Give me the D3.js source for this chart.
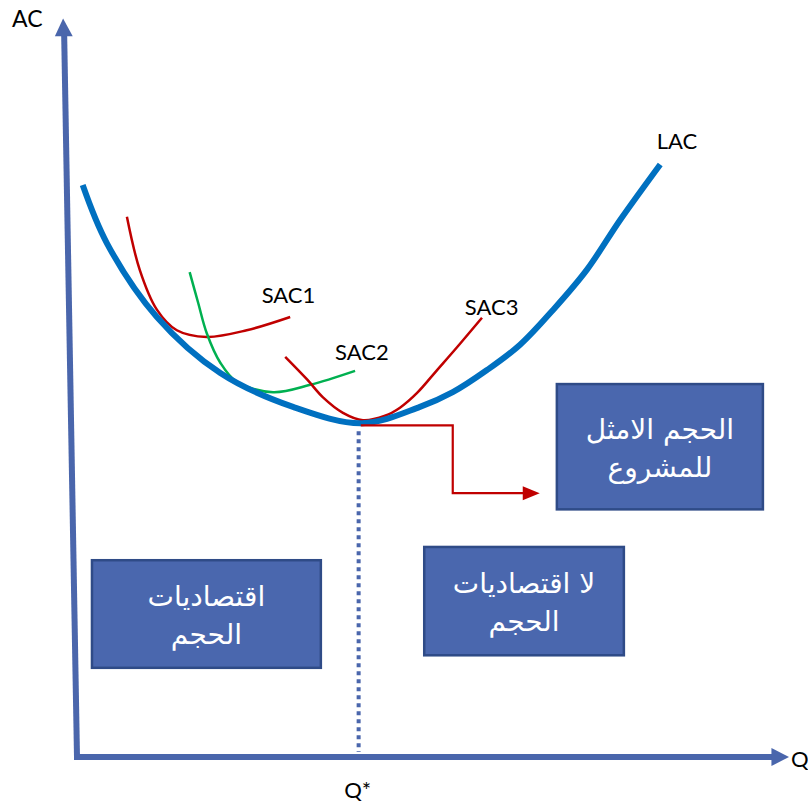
<!DOCTYPE html>
<html><head><meta charset="utf-8">
<script src="https://cdn.jsdelivr.net/npm/d3@7"></script>
<style>html,body{margin:0;padding:0;background:#fff;}svg{display:block;}</style>
</head><body>
<svg id="c" width="808" height="804"></svg>
<script>
// Long-run average cost curve (Q, AC) in chart units
const lacQ  = [0.8, 4.2, 11.2, 20.1, 30.3, 40.0, 48.1, 52.7, 57.5, 62.1, 66.8, 71.5, 76.2, 81.8];
const lacAC = [77.6, 69.7, 59.7, 52.1, 47.5, 45.3, 47.5, 49.5, 52.5, 55.9, 60.7, 66.1, 72.9, 80.4];
// Short-run average cost curves
const sac1Q  = [7.0, 8.8, 11.2, 14.0, 18.2, 23.8, 29.9];
const sac1AC = [73.3, 66.1, 60.7, 57.9, 57.0, 57.9, 59.7];
const sac2Q  = [15.8, 17.0, 18.2, 20.1, 22.4, 27.5, 32.7, 39.0];
const sac2AC = [65.8, 61.6, 57.5, 53.5, 50.9, 49.5, 50.5, 52.4];
const sac3Q  = [29.2, 32.3, 34.5, 37.3, 40.1, 43.2, 45.3, 47.7, 50.5, 53.3, 56.8];
const sac3AC = [54.3, 51.2, 48.8, 46.7, 45.7, 46.3, 47.4, 49.4, 52.5, 55.6, 59.6];
const qStar = 39.5;
const minAC = 45.0;
// optimum-size pointer (elbow arrow)
const pointerQ  = [39.8, 52.7, 52.7, 64.9];
const pointerAC = [45.0, 45.0, 35.8, 35.8];
// labels (left edge, baseline)
const curveLabels = [
  {text: "SAC1", q: 25.9, ac: 61.6},
  {text: "SAC2", q: 36.2, ac: 53.9},
  {text: "SAC3", q: 54.4, ac: 60.0},
  {text: "LAC",  q: 81.3, ac: 82.5}
];
const boxTexts = [
  {lines: ["الحجم الامثل", "للمشروع"], q0: 67.3, q1: 96.2, ac0: 33.6, ac1: 50.6},
  {lines: ["اقتصاديات", "الحجم"], q0: 2.1, q1: 34.2, ac0: 12.1, ac1: 26.7},
  {lines: ["لا اقتصاديات", "الحجم"], q0: 48.7, q1: 76.7, ac0: 13.8, ac1: 28.5}
];

const svg = d3.select("#c");
const x = d3.scaleLinear().domain([0, 100]).range([77, 790]);
const y = d3.scaleLinear().domain([0, 100]).range([757, 20]);

const axisColor = "#4A66AC";
const line = d3.line().x(d => x(d[0])).y(d => y(d[1])).curve(d3.curveCatmullRom.alpha(0.5));
const zip = (a, b) => a.map((v, i) => [v, b[i]]);

// y axis (slightly slanted as in original)
svg.append("line").attr("x1", x(0)).attr("y1", y(0)).attr("x2", x(-1.8)).attr("y2", y(98.0))
  .attr("stroke", axisColor).attr("stroke-width", 6);
svg.append("path").attr("d", `M${x(-1.95)},${y(100.2)} L${x(-3.1)},${y(97.8)} L${x(-0.6)},${y(97.8)} Z`)
  .attr("fill", axisColor);
// x axis
svg.append("line").attr("x1", x(0) - 3).attr("y1", y(0)).attr("x2", x(97.6)).attr("y2", y(0))
  .attr("stroke", axisColor).attr("stroke-width", 6);
svg.append("path").attr("d", `M${x(100)-1},${y(0)} L${x(97.4)},${y(0)-9} L${x(97.4)},${y(0)+9} Z`)
  .attr("fill", axisColor);

// axis labels
const latin = "Lato, 'Open Sans', sans-serif";
svg.append("text").attr("x", 12).attr("y", 27).text("AC").attr("font-family", latin).attr("font-size", 23).attr("fill", "#000");
svg.append("text").attr("x", 791).attr("y", 767).text("Q").attr("font-family", latin).attr("font-size", 22).attr("fill", "#000");
svg.append("text").attr("x", x(qStar) - 1).attr("y", 798).attr("text-anchor", "middle").attr("font-family", latin).attr("font-size", 22).attr("fill", "#000")
  .text("Q*");

// dotted Q* line
svg.append("line").attr("x1", x(qStar)).attr("x2", x(qStar)).attr("y1", y(minAC) + 6).attr("y2", y(0) - 5)
  .attr("stroke", axisColor).attr("stroke-width", 4).attr("stroke-dasharray", "4,4");

// SAC curves
svg.append("path").attr("d", line(zip(sac1Q, sac1AC))).attr("fill", "none").attr("stroke", "#C00000").attr("stroke-width", 2.5);
svg.append("path").attr("d", line(zip(sac2Q, sac2AC))).attr("fill", "none").attr("stroke", "#00B050").attr("stroke-width", 2.5);
svg.append("path").attr("d", line(zip(sac3Q, sac3AC))).attr("fill", "none").attr("stroke", "#C00000").attr("stroke-width", 2.5);

// LAC
svg.append("path").attr("d", line(zip(lacQ, lacAC))).attr("fill", "none").attr("stroke", "#0070C0").attr("stroke-width", 6).attr("stroke-linecap", "butt");

// pointer arrow
const pts = zip(pointerQ, pointerAC);
svg.append("path").attr("d", d3.line().x(d => x(d[0])).y(d => y(d[1]))(pts.slice(0, 3).concat([[pointerQ[3] - 2.2, pointerAC[3]]])))
  .attr("fill", "none").attr("stroke", "#C00000").attr("stroke-width", 2.2);
const ex = x(pointerQ[3]), ey = y(pointerAC[3]);
svg.append("path").attr("d", `M${ex},${ey} L${ex-17},${ey-7} L${ex-17},${ey+7} Z`).attr("fill", "#C00000");

// curve labels
curveLabels.forEach(l => {
  svg.append("text").attr("x", x(l.q)).attr("y", y(l.ac)).attr("text-anchor", "start")
    .attr("font-family", latin).attr("font-size", 22).attr("fill", "#000").text(l.text);
});

// boxes
boxTexts.forEach(b => {
  const bx = x(b.q0), by = y(b.ac1), bw = x(b.q1) - x(b.q0), bh = y(b.ac0) - y(b.ac1);
  svg.append("rect").attr("x", bx).attr("y", by).attr("width", bw).attr("height", bh)
    .attr("fill", "#4A67AE").attr("stroke", "#2F4B87").attr("stroke-width", 2.5);
  const cx = bx + bw / 2, cy = by + bh / 2;
  b.lines.forEach((t, i) => {
    svg.append("text").attr("x", cx).attr("y", cy - 8 + i * 38)
      .attr("text-anchor", "middle").attr("direction", "rtl")
      .attr("font-family", "'DejaVu Sans', 'Noto Sans', sans-serif").attr("font-size", 28)
      .attr("fill", "#fff").text(t);
  });
});
</script>
</body></html>
